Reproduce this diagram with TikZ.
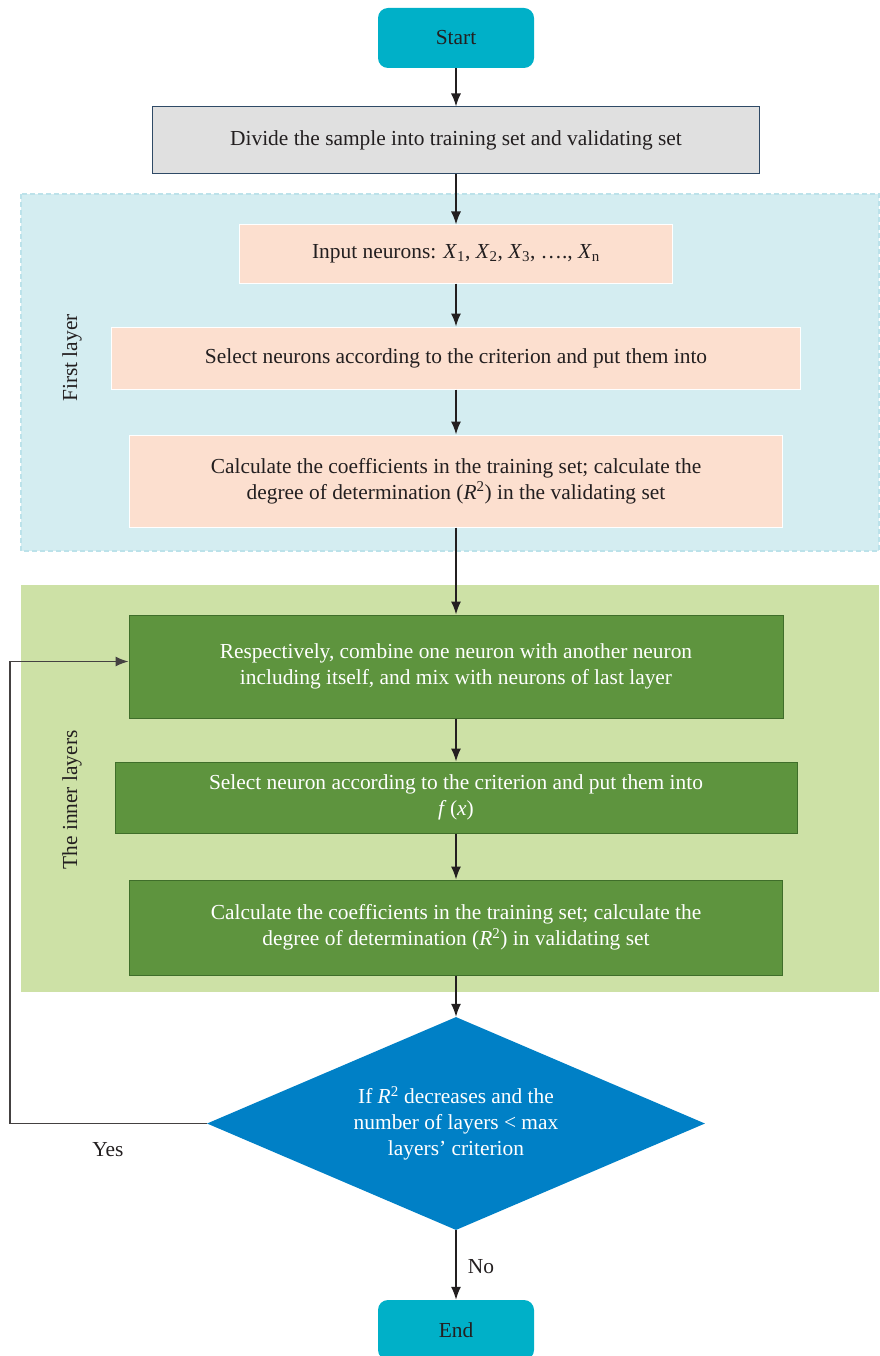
\documentclass[tikz,border=0pt]{standalone}
\usepackage{fontspec}
\setmainfont{Liberation Serif}
\usetikzlibrary{arrows.meta,shapes.geometric}
\definecolor{teal}{HTML}{00B0C8}
\definecolor{grayfill}{HTML}{E0E0E0}
\definecolor{grayborder}{HTML}{2F4A66}
\definecolor{lblue}{HTML}{D4EDF1}
\definecolor{lbluedash}{HTML}{BCE2EA}
\definecolor{peach}{HTML}{FCDFCF}
\definecolor{lgreen}{HTML}{CDE1A6}
\definecolor{dgreen}{HTML}{5E943E}
\definecolor{dgreenborder}{HTML}{3F6E2A}
\definecolor{dblue}{HTML}{0080C6}
\definecolor{ink}{HTML}{231F20}
\tikzset{
  x=1pt, y=-1pt,
  every node/.style={font=\fontsize{21.4}{26}\selectfont, text=ink, inner sep=0pt, align=center},
  terminal/.style={rectangle, rounded corners=10pt, fill=teal, minimum width=156pt, minimum height=60pt},
  graybox/.style={rectangle, fill=grayfill, draw=grayborder, line width=1pt},
  peachbox/.style={rectangle, fill=peach, draw=white, line width=1pt},
  greenbox/.style={rectangle, fill=dgreen, draw=dgreenborder, line width=1pt, text=white},
  decision/.style={diamond, aspect=2.34, fill=dblue, text=white, minimum width=498pt, minimum height=213pt},
  arr/.style={line width=1.5pt, draw=ink, -{Latex[length=13pt,width=10pt]}},
  loopline/.style={line width=1.4pt, draw=ink!85, -{Latex[length=13pt,width=10pt]}},
  sidelabel/.style={rotate=90, text=ink},
}
\begin{document}
\begin{tikzpicture}
\useasboundingbox (0,0) rectangle (879,1356);
% regions
\fill[lblue] (21,194) rectangle (879,551);
\draw[lbluedash, line width=1.2pt, dash pattern=on 5pt off 3pt] (21,194) rectangle (879,551);
\fill[lgreen] (21,585) rectangle (879,992);
\node[sidelabel] (lab1) at (72,358) {First layer};
\node[sidelabel] (lab2) at (72,800) {The inner layers};
% nodes
\node[terminal] (start) at (456,38) {Start};
\node[graybox, minimum width=607pt, minimum height=67pt] (divide) at (456,140.5) {Divide the sample into training set and validating set};
\node[peachbox, minimum width=433pt, minimum height=58pt] (input) at (456,254) {Input neurons: \textit{X}\textsubscript{1}, \textit{X}\textsubscript{2}, \textit{X}\textsubscript{3}, \dots., \textit{X}\textsubscript{n}};
\node[peachbox, minimum width=689pt, minimum height=62pt] (sel1) at (456,358) {Select neurons according to the criterion and put them into};
\node[peachbox, minimum width=653pt, minimum height=92pt] (calc1) at (456,481) {Calculate the coefficients in the training set; calculate the\\ degree of determination (\textit{R}\textsuperscript{2}) in the validating set};
\node[greenbox, minimum width=654pt, minimum height=103pt] (resp) at (456,666.5) {Respectively, combine one neuron with another neuron\\ including itself, and mix with neurons of last layer};
\node[greenbox, minimum width=682pt, minimum height=71pt] (sel2) at (456,797.5) {Select neuron according to the criterion and put them into\\ \textit{f}\,(\textit{x})};
\node[greenbox, minimum width=653pt, minimum height=95pt] (calc2) at (456,927.5) {Calculate the coefficients in the training set; calculate the\\ degree of determination (\textit{R}\textsuperscript{2}) in validating set};
\node[decision] (dec) at (456,1123.5) {If \textit{R}\textsuperscript{2} decreases and the\\ number of layers < max\\ layers' criterion};
\node[terminal, minimum height=60pt] (end) at (456,1330) {End};
\node (yes) at (108,1150) {Yes};
\node (no) at (481,1267) {No};
% connectors
\draw[arr] (start) -- (divide);
\draw[arr] (divide) -- (input);
\draw[arr] (input) -- (sel1);
\draw[arr] (sel1) -- (calc1);
\draw[arr] (calc1) -- (resp);
\draw[arr] (resp) -- (sel2);
\draw[arr] (sel2) -- (calc2);
\draw[arr] (calc2) -- (dec);
\draw[arr] (dec) -- (end);
\coordinate (corner) at (10,1123.5);
\draw[loopline] (dec.west) -- (corner) |- ([yshift=5pt]resp.west);
\end{tikzpicture}
\end{document}
